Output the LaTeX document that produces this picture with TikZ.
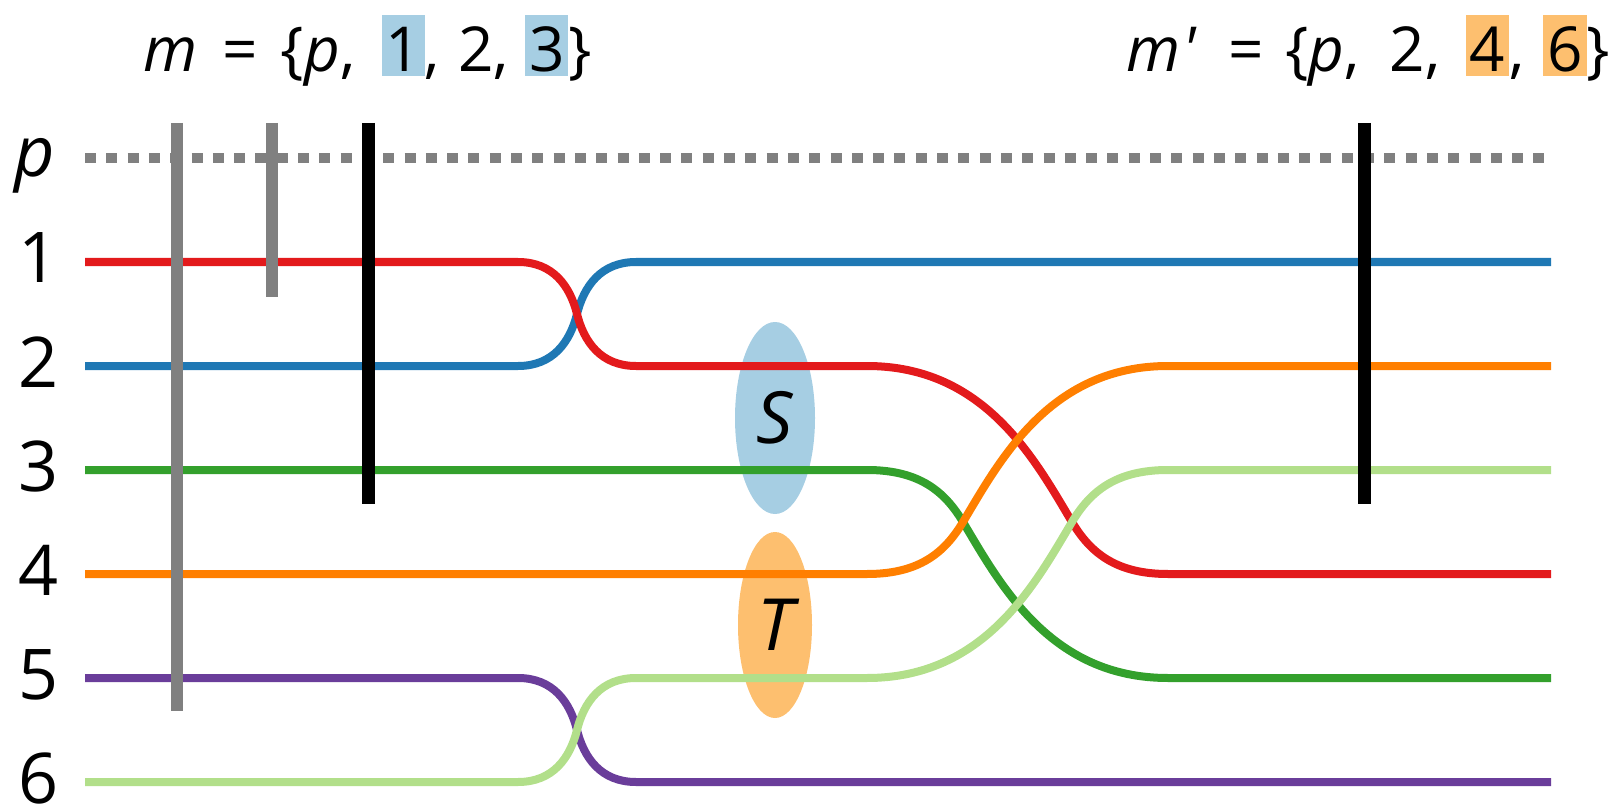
\documentclass[tikz,border=0pt]{standalone}
\usepackage{fontspec}
\setmainfont{Open Sans}
\usetikzlibrary{shapes.geometric}
\definecolor{cred}{HTML}{E31A1C}
\definecolor{cblue}{HTML}{1F78B4}
\definecolor{cgreen}{HTML}{33A02C}
\definecolor{corange}{HTML}{FF7F00}
\definecolor{cpurple}{HTML}{6A3D9A}
\definecolor{clgreen}{HTML}{B2DF8A}
\definecolor{hlblue}{HTML}{A6CEE3}
\definecolor{hlorange}{HTML}{FDBF6F}
\definecolor{cgray}{HTML}{808080}
\newcommand\hlbox[2]{{\setlength{\fboxsep}{0pt}\colorbox{#1}{\rule[-4pt]{0pt}{61pt}\hspace{4pt}#2\hspace{4pt}}}}
\begin{document}
\begin{tikzpicture}[x=1pt,y=-1pt,
  wire/.style={line width=8pt},
  graybar/.style={line width=12pt, draw=cgray},
  blackbar/.style={line width=13pt, draw=black},
  rowlabel/.style={anchor=base, inner sep=0pt, font=\fontsize{70}{80}\selectfont},
  toplabel/.style={anchor=base west, inner sep=0pt, font=\fontsize{62}{70}\selectfont},
  blob/.style={ellipse, inner sep=0pt, font=\fontsize{72}{80}\selectfont\itshape}]
\useasboundingbox (0,0) rectangle (1612,805);

% top labels
\node[toplabel] (mlab) at (143,72) {{\itshape m}\hspace{9pt} =\hspace{7pt} \{{\itshape p},\hspace{10pt} \hlbox{hlblue}{1},\hspace{2pt} 2, \hlbox{hlblue}{3}\}};
\node[toplabel] (mplab) at (1126,72) {{\itshape m\hspace{2pt}\textquotesingle}\hspace{17pt} =\hspace{5pt} \{{\itshape p},\hspace{14pt} 2,\hspace{9pt} \hlbox{hlorange}{4},\hspace{3pt} \hlbox{hlorange}{6}\}};

% row labels
\node[rowlabel] (lp) at (35,177) {\itshape p};
\node[rowlabel] (l1) at (39,283) {1};
\node[rowlabel] (l2) at (39,387) {2};
\node[rowlabel] (l3) at (39,491) {3};
\node[rowlabel] (l4) at (39,595) {4};
\node[rowlabel] (l5) at (39,699) {5};
\node[rowlabel] (l6) at (39,803) {6};

% ellipses
\node[blob, fill=hlblue, minimum width=80pt, minimum height=192pt] (S) at (775,418) {S};
\node[blob, fill=hlorange, minimum width=74pt, minimum height=186pt] (T) at (775,625) {T};

% dotted p line
\draw[cgray, line width=10pt, dash pattern=on 11pt off 10.3pt] (85,158) -- (1551,158);

% wires
\draw[wire, cblue] (85,366) -- (518,366) .. controls (553,366) and (570,342) .. (577,314)
  .. controls (584,286) and (601,262) .. (636,262) -- (1551,262);
\draw[wire, cpurple] (85,678) -- (518,678) .. controls (553,678) and (570,702) .. (577,730)
  .. controls (584,758) and (601,782) .. (636,782) -- (1551,782);
\draw[wire, cred] (85,262) -- (518,262) .. controls (553,262) and (570,286) .. (577,314)
  .. controls (584,342) and (601,366) .. (636,366) -- (867,366)
  .. controls (985,366) and (1035,460) .. (1072,522)
  .. controls (1090,552) and (1115,574) .. (1168,574) -- (1551,574);
\draw[wire, cgreen] (85,470) -- (867,470) .. controls (920,470) and (945,492) .. (963,522)
  .. controls (1000,584) and (1050,678) .. (1168,678) -- (1551,678);
\draw[wire, corange] (85,574) -- (867,574) .. controls (920,574) and (945,552) .. (963,522)
  .. controls (1000,460) and (1050,366) .. (1168,366) -- (1551,366);
\draw[wire, clgreen] (85,782) -- (518,782) .. controls (553,782) and (570,758) .. (577,730)
  .. controls (584,702) and (601,678) .. (636,678) -- (867,678)
  .. controls (985,678) and (1035,584) .. (1072,522)
  .. controls (1090,492) and (1115,470) .. (1168,470) -- (1551,470);

% bars
\draw[graybar] (177,123) -- (177,711);
\draw[graybar] (272,123) -- (272,297);
\draw[blackbar] (368,123) -- (368,504);
\draw[blackbar] (1364.5,123) -- (1364.5,504);
\end{tikzpicture}
\end{document}
